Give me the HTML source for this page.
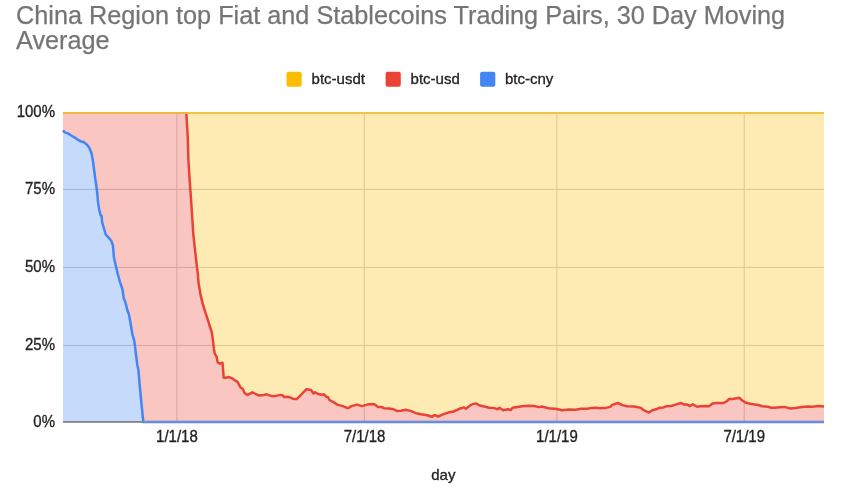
<!DOCTYPE html>
<html><head><meta charset="utf-8"><style>
html,body{margin:0;padding:0;background:#fff;width:850px;height:501px;overflow:hidden}
svg{display:block;filter:blur(0.35px)}
text{font-family:"Liberation Sans", sans-serif}
</style></head><body>
<svg width="850" height="501" viewBox="0 0 850 501">
<rect width="850" height="501" fill="#fff"/>
<g fill="#757575" font-size="25.25" stroke="#757575" stroke-width="0.25">
<text x="16.0" y="23.8">China Region top Fiat and Stablecoins Trading Pairs, 30 Day Moving</text>
<text x="16.0" y="49.0">Average</text>
</g>
<g font-size="15" fill="#222" stroke="#222" stroke-width="0.3">
<rect x="286.5" y="71.8" width="15.2" height="15" rx="2" fill="#fbbc04" stroke="none"/>
<text x="311.6" y="83.8">btc-usdt</text>
<rect x="385.6" y="71.8" width="15.2" height="15" rx="2" fill="#ea4335" stroke="none"/>
<text x="410.6" y="83.8">btc-usd</text>
<rect x="480.1" y="71.8" width="15.2" height="15" rx="2" fill="#4285f4" stroke="none"/>
<text x="505.0" y="83.8">btc-cny</text>
</g>
<g stroke="#cccccc" stroke-width="1"><line x1="63" x2="824" y1="189.4" y2="189.4" /><line x1="63" x2="824" y1="267.4" y2="267.4" /><line x1="63" x2="824" y1="345.4" y2="345.4" /><line x1="176.9" x2="176.9" y1="112" y2="422" /><line x1="364.3" x2="364.3" y1="112" y2="422" /><line x1="556.9" x2="556.9" y1="112" y2="422" /><line x1="744.2" x2="744.2" y1="112" y2="422" /></g>
<path d="M63,112 L824,112 L824,406.5 L824,406.5 L817.9,405.9 L812.3,406.7 L807.5,406.5 L801.9,406.9 L795.5,408 L790.4,408.5 L784.4,406.9 L779.6,407.2 L774.8,407.7 L771.5,407.8 L767.8,406.8 L762.1,406.2 L758.4,405 L749.9,403.8 L745.2,402.4 L742.4,400.5 L739.1,397.7 L732.9,398.9 L729.2,398.9 L726.4,401.5 L723.5,403.1 L716.9,402.9 L712.2,403.6 L709.4,406.2 L704.7,405.9 L700.3,406.2 L697,406.8 L692.8,404.3 L690,406 L687.1,404.6 L684.3,404.6 L681,403 L675.8,404.6 L671.1,406 L666.4,406.2 L663.6,407.4 L659.8,407.7 L656.1,409.3 L652.3,410.2 L649,412.6 L643.8,410.2 L641,407.9 L634.4,406.5 L627.2,406.2 L622.5,405.1 L617.8,403 L612.1,404.9 L610.2,406.9 L604.6,408.1 L599.9,408.2 L596.1,407.7 L591.4,407.9 L587.6,408.8 L581.1,408.8 L575.4,409.8 L568.8,409.5 L562.2,410.2 L555.6,408.8 L550.3,408.6 L546.5,407.7 L541.8,406.5 L539,407.1 L534.3,406 L528.6,405.8 L522.1,406.2 L517.4,406.9 L512.6,407.7 L510.8,410 L507.9,409.3 L503.2,410.2 L499.5,407.7 L497.6,409.3 L493.8,407.9 L489.1,407.7 L484.4,406.5 L479.7,405.5 L475.8,403.4 L471.5,404.6 L465.9,408.8 L464,407.4 L459.3,408.8 L453.6,411.5 L448,412.6 L442.4,414.7 L438.1,416.5 L434.4,414.9 L432,416.8 L427.3,415.2 L420.7,414.3 L416,413.1 L410.4,410.9 L405.6,409.8 L400.9,410.7 L396.9,410.9 L393.7,409.3 L388.9,408.5 L384.1,408.3 L381.7,406.9 L377.7,406.9 L375.3,404.8 L372.9,404 L367.3,404.6 L361.8,406.1 L357,404.6 L351.4,406.1 L348.2,408.1 L346.9,407.9 L342.9,406.1 L337.9,404.9 L332.9,401.9 L329.4,400 L327.9,397 L326.4,396.8 L324,394.3 L322,394.8 L318,394 L315,392.2 L313.5,393.5 L311,390 L306.5,389.2 L301,394.9 L297,398.9 L293.7,399.1 L291.3,397.9 L287.7,396.7 L284.1,397.1 L282.9,395.5 L280.5,394.9 L275.7,395.9 L270.9,395.9 L266.7,394.3 L263.7,394.9 L259,395.5 L254.8,393.5 L252.4,392.3 L250,393.7 L247.6,394.9 L244.6,393.1 L242.8,389 L240.4,387.2 L237.5,381.9 L234.5,380.1 L232.1,378.3 L229.1,377.1 L225.5,377.7 L223.7,377.7 L222.5,362.7 L219.6,363.6 L217.8,362.7 L216.6,356.7 L214.8,353.7 L213.9,349 L213,340.6 L211.8,332.2 L209.4,325 L208.4,321.5 L206,314.3 L203,304.7 L200.6,295.1 L198.4,282 L198,275 L197,267.7 L196.2,260.5 L194.6,246.1 L193.2,233 L192.4,220 L191.2,201.9 L190.3,188.7 L189.6,179.2 L188.4,160 L187.8,138 L186.3,113 L63,113 Z" fill="#fbbc04" fill-opacity="0.3"/>
<path d="M63,113 L186.3,113 L187.8,138 L188.4,160 L189.6,179.2 L190.3,188.7 L191.2,201.9 L192.4,220 L193.2,233 L194.6,246.1 L196.2,260.5 L197,267.7 L198,275 L198.4,282 L200.6,295.1 L203,304.7 L206,314.3 L208.4,321.5 L209.4,325 L211.8,332.2 L213,340.6 L213.9,349 L214.8,353.7 L216.6,356.7 L217.8,362.7 L219.6,363.6 L222.5,362.7 L223.7,377.7 L225.5,377.7 L229.1,377.1 L232.1,378.3 L234.5,380.1 L237.5,381.9 L240.4,387.2 L242.8,389 L244.6,393.1 L247.6,394.9 L250,393.7 L252.4,392.3 L254.8,393.5 L259,395.5 L263.7,394.9 L266.7,394.3 L270.9,395.9 L275.7,395.9 L280.5,394.9 L282.9,395.5 L284.1,397.1 L287.7,396.7 L291.3,397.9 L293.7,399.1 L297,398.9 L301,394.9 L306.5,389.2 L311,390 L313.5,393.5 L315,392.2 L318,394 L322,394.8 L324,394.3 L326.4,396.8 L327.9,397 L329.4,400 L332.9,401.9 L337.9,404.9 L342.9,406.1 L346.9,407.9 L348.2,408.1 L351.4,406.1 L357,404.6 L361.8,406.1 L367.3,404.6 L372.9,404 L375.3,404.8 L377.7,406.9 L381.7,406.9 L384.1,408.3 L388.9,408.5 L393.7,409.3 L396.9,410.9 L400.9,410.7 L405.6,409.8 L410.4,410.9 L416,413.1 L420.7,414.3 L427.3,415.2 L432,416.8 L434.4,414.9 L438.1,416.5 L442.4,414.7 L448,412.6 L453.6,411.5 L459.3,408.8 L464,407.4 L465.9,408.8 L471.5,404.6 L475.8,403.4 L479.7,405.5 L484.4,406.5 L489.1,407.7 L493.8,407.9 L497.6,409.3 L499.5,407.7 L503.2,410.2 L507.9,409.3 L510.8,410 L512.6,407.7 L517.4,406.9 L522.1,406.2 L528.6,405.8 L534.3,406 L539,407.1 L541.8,406.5 L546.5,407.7 L550.3,408.6 L555.6,408.8 L562.2,410.2 L568.8,409.5 L575.4,409.8 L581.1,408.8 L587.6,408.8 L591.4,407.9 L596.1,407.7 L599.9,408.2 L604.6,408.1 L610.2,406.9 L612.1,404.9 L617.8,403 L622.5,405.1 L627.2,406.2 L634.4,406.5 L641,407.9 L643.8,410.2 L649,412.6 L652.3,410.2 L656.1,409.3 L659.8,407.7 L663.6,407.4 L666.4,406.2 L671.1,406 L675.8,404.6 L681,403 L684.3,404.6 L687.1,404.6 L690,406 L692.8,404.3 L697,406.8 L700.3,406.2 L704.7,405.9 L709.4,406.2 L712.2,403.6 L716.9,402.9 L723.5,403.1 L726.4,401.5 L729.2,398.9 L732.9,398.9 L739.1,397.7 L742.4,400.5 L745.2,402.4 L749.9,403.8 L758.4,405 L762.1,406.2 L767.8,406.8 L771.5,407.8 L774.8,407.7 L779.6,407.2 L784.4,406.9 L790.4,408.5 L795.5,408 L801.9,406.9 L807.5,406.5 L812.3,406.7 L817.9,405.9 L824,406.5 L824,422 L824,422 L143.4,422 L143.1,420 L141.3,401.9 L139.6,384 L138.4,369.6 L137.3,365 L135.5,350.5 L134.3,340.9 L132.5,334.9 L130.7,324.2 L129,314.6 L127.3,310 L125.5,302.7 L123.7,297.9 L122.5,289.5 L120.1,282.3 L117.8,274 L116,266.8 L113.9,257.2 L113.3,250 L112.9,245.3 L111.1,240.5 L108.1,237.2 L105.7,234.5 L104,228.5 L102.2,222.5 L101.6,216 L100.4,214.8 L99.2,209.4 L98,202.2 L97.4,195 L96.7,188.7 L95.1,177.5 L93.1,162 L91.5,153.1 L89.1,147.5 L86.7,144.4 L83.5,142 L80.4,141.2 L77.6,139.6 L74.8,137.6 L70.8,135.2 L68.4,133.6 L64.8,132.4 L63,130.4 Z" fill="#ea4335" fill-opacity="0.3"/>
<path d="M63,130.4 L64.8,132.4 L68.4,133.6 L70.8,135.2 L74.8,137.6 L77.6,139.6 L80.4,141.2 L83.5,142 L86.7,144.4 L89.1,147.5 L91.5,153.1 L93.1,162 L95.1,177.5 L96.7,188.7 L97.4,195 L98,202.2 L99.2,209.4 L100.4,214.8 L101.6,216 L102.2,222.5 L104,228.5 L105.7,234.5 L108.1,237.2 L111.1,240.5 L112.9,245.3 L113.3,250 L113.9,257.2 L116,266.8 L117.8,274 L120.1,282.3 L122.5,289.5 L123.7,297.9 L125.5,302.7 L127.3,310 L129,314.6 L130.7,324.2 L132.5,334.9 L134.3,340.9 L135.5,350.5 L137.3,365 L138.4,369.6 L139.6,384 L141.3,401.9 L143.1,420 L143.4,422 L63,422 Z" fill="#4285f4" fill-opacity="0.3"/>
<line x1="63" x2="824" y1="422" y2="422" stroke="#333" stroke-width="1"/>
<polyline points="186.3,113 187.8,138 188.4,160 189.6,179.2 190.3,188.7 191.2,201.9 192.4,220 193.2,233 194.6,246.1 196.2,260.5 197,267.7 198,275 198.4,282 200.6,295.1 203,304.7 206,314.3 208.4,321.5 209.4,325 211.8,332.2 213,340.6 213.9,349 214.8,353.7 216.6,356.7 217.8,362.7 219.6,363.6 222.5,362.7 223.7,377.7 225.5,377.7 229.1,377.1 232.1,378.3 234.5,380.1 237.5,381.9 240.4,387.2 242.8,389 244.6,393.1 247.6,394.9 250,393.7 252.4,392.3 254.8,393.5 259,395.5 263.7,394.9 266.7,394.3 270.9,395.9 275.7,395.9 280.5,394.9 282.9,395.5 284.1,397.1 287.7,396.7 291.3,397.9 293.7,399.1 297,398.9 301,394.9 306.5,389.2 311,390 313.5,393.5 315,392.2 318,394 322,394.8 324,394.3 326.4,396.8 327.9,397 329.4,400 332.9,401.9 337.9,404.9 342.9,406.1 346.9,407.9 348.2,408.1 351.4,406.1 357,404.6 361.8,406.1 367.3,404.6 372.9,404 375.3,404.8 377.7,406.9 381.7,406.9 384.1,408.3 388.9,408.5 393.7,409.3 396.9,410.9 400.9,410.7 405.6,409.8 410.4,410.9 416,413.1 420.7,414.3 427.3,415.2 432,416.8 434.4,414.9 438.1,416.5 442.4,414.7 448,412.6 453.6,411.5 459.3,408.8 464,407.4 465.9,408.8 471.5,404.6 475.8,403.4 479.7,405.5 484.4,406.5 489.1,407.7 493.8,407.9 497.6,409.3 499.5,407.7 503.2,410.2 507.9,409.3 510.8,410 512.6,407.7 517.4,406.9 522.1,406.2 528.6,405.8 534.3,406 539,407.1 541.8,406.5 546.5,407.7 550.3,408.6 555.6,408.8 562.2,410.2 568.8,409.5 575.4,409.8 581.1,408.8 587.6,408.8 591.4,407.9 596.1,407.7 599.9,408.2 604.6,408.1 610.2,406.9 612.1,404.9 617.8,403 622.5,405.1 627.2,406.2 634.4,406.5 641,407.9 643.8,410.2 649,412.6 652.3,410.2 656.1,409.3 659.8,407.7 663.6,407.4 666.4,406.2 671.1,406 675.8,404.6 681,403 684.3,404.6 687.1,404.6 690,406 692.8,404.3 697,406.8 700.3,406.2 704.7,405.9 709.4,406.2 712.2,403.6 716.9,402.9 723.5,403.1 726.4,401.5 729.2,398.9 732.9,398.9 739.1,397.7 742.4,400.5 745.2,402.4 749.9,403.8 758.4,405 762.1,406.2 767.8,406.8 771.5,407.8 774.8,407.7 779.6,407.2 784.4,406.9 790.4,408.5 795.5,408 801.9,406.9 807.5,406.5 812.3,406.7 817.9,405.9 824,406.5" fill="none" stroke="#ea4335" stroke-width="2.5" stroke-linejoin="round"/>
<polyline points="63,130.4 64.8,132.4 68.4,133.6 70.8,135.2 74.8,137.6 77.6,139.6 80.4,141.2 83.5,142 86.7,144.4 89.1,147.5 91.5,153.1 93.1,162 95.1,177.5 96.7,188.7 97.4,195 98,202.2 99.2,209.4 100.4,214.8 101.6,216 102.2,222.5 104,228.5 105.7,234.5 108.1,237.2 111.1,240.5 112.9,245.3 113.3,250 113.9,257.2 116,266.8 117.8,274 120.1,282.3 122.5,289.5 123.7,297.9 125.5,302.7 127.3,310 129,314.6 130.7,324.2 132.5,334.9 134.3,340.9 135.5,350.5 137.3,365 138.4,369.6 139.6,384 141.3,401.9 143.1,420 143.4,422 824,422" fill="none" stroke="#4285f4" stroke-width="2.5" stroke-linejoin="round"/>
<line x1="143.4" x2="824" y1="422" y2="422" stroke="#6a8fd6" stroke-width="2"/>
<line x1="63" x2="187" y1="113" y2="113" stroke="#f3b646" stroke-width="2"/>
<line x1="187" x2="824" y1="113" y2="113" stroke="#f6c445" stroke-width="2"/>
<g font-size="15" fill="#222" stroke="#222" stroke-width="0.3">
<text transform="translate(55,116.6) scale(1,1.06)" text-anchor="end">100%</text><text transform="translate(55,194.4) scale(1,1.06)" text-anchor="end">75%</text><text transform="translate(55,272.0) scale(1,1.06)" text-anchor="end">50%</text><text transform="translate(55,349.8) scale(1,1.06)" text-anchor="end">25%</text><text transform="translate(55,427.0) scale(1,1.06)" text-anchor="end">0%</text>
<text transform="translate(176.9,442.3) scale(1,1.06)" text-anchor="middle">1/1/18</text><text transform="translate(364.6,442.3) scale(1,1.06)" text-anchor="middle">7/1/18</text><text transform="translate(556.9,442.3) scale(1,1.06)" text-anchor="middle">1/1/19</text><text transform="translate(744.2,442.3) scale(1,1.06)" text-anchor="middle">7/1/19</text>
<text x="443.3" y="480" text-anchor="middle">day</text>
</g>
</svg>
</body></html>
